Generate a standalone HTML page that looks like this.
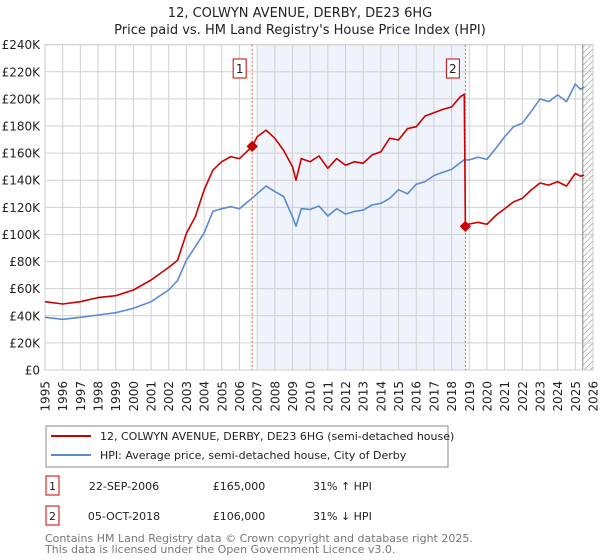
<!DOCTYPE html>
<html><head><meta charset="utf-8"><style>
body{margin:0;background:#fff;font-family:"DejaVu Sans","Liberation Sans",sans-serif;}
#wrap{position:relative;width:600px;height:560px;overflow:hidden}
</style></head><body>
<div id="wrap">
<svg id="chart" width="600" height="560" style="position:absolute;left:0;top:0" font-family="DejaVu Sans, Liberation Sans, sans-serif"></svg>
</div>
<script>
const hpiYears=[1995,1996,1997,1998,1999,2000,2001,2002,2002.5,2003,2003.5,2004,2004.5,2005,2005.5,2006,2006.7,2007,2007.5,2008,2008.5,2009,2009.2,2009.5,2010,2010.5,2011,2011.5,2012,2012.5,2013,2013.5,2014,2014.5,2015,2015.5,2016,2016.5,2017,2017.5,2018,2018.7,2019,2019.5,2020,2020.5,2021,2021.5,2022,2022.5,2023,2023.5,2024,2024.5,2025,2025.3,2025.5];
const hpiValues=[38.9,37.4,38.9,40.6,42.3,45.5,50.4,59,66,81,91,101,117,119,120.5,119,126.6,130,135.7,131.6,128,113,106,119,118.5,121,113.6,119,115,117,118,121.7,123,126.6,133,130,137,139,143.4,145.8,148,155,155,157,155.4,163.5,172,179.5,182,190.6,200,198,203,198,211,207,209];
const priceYears=[1995,1996,1997,1998,1999,2000,2001,2002,2002.5,2003,2003.5,2004,2004.5,2005,2005.5,2006,2006.72,2007,2007.5,2008,2008.5,2009,2009.2,2009.5,2010,2010.5,2011,2011.5,2012,2012.5,2013,2013.5,2014,2014.5,2015,2015.5,2016,2016.5,2017,2017.5,2018,2018.5,2018.72,2018.78,2019,2019.5,2020,2020.5,2021,2021.5,2022,2022.5,2023,2023.5,2024,2024.5,2025,2025.3,2025.5];
const priceValues=[50.4,48.7,50.4,53.4,54.8,59,66.4,75.7,81,100.8,113,132.8,147.5,153.7,157.4,156,165,172,177,171,162,150,140,156,153.7,157.9,148.8,156,151,153.7,152.5,158.6,161,171,169.7,178,179.5,187.4,189.8,192.3,194,201.6,203.4,106,107.7,109,107.5,114,119,124,126.6,132.8,138,136.4,139,135.7,145,143,143.8];
const saleYears=[2006.72,2018.78];
const saleValues=[165,106];
const saleLabels=["1","2"];
const yTicks=[0,20,40,60,80,100,120,140,160,180,200,220,240];
const xTicks=[1995,1996,1997,1998,1999,2000,2001,2002,2003,2004,2005,2006,2007,2008,2009,2010,2011,2012,2013,2014,2015,2016,2017,2018,2019,2020,2021,2022,2023,2024,2025,2026];

const svg=document.getElementById('chart');
const NS='http://www.w3.org/2000/svg';
const L=45,R=593,T=44.7,B=370;
const X=y=>L+(y-1995)*(R-L)/31;
const Y=v=>B-v*(B-T)/240;
function el(t,a,p){const e=document.createElementNS(NS,t);for(const k in a)e.setAttribute(k,a[k]);(p||svg).appendChild(e);return e;}

let t=el('text',{x:300,y:17,'text-anchor':'middle','font-size':13,fill:'#222'});t.textContent='12, COLWYN AVENUE, DERBY, DE23 6HG';


t=el('text',{x:300,y:34,'text-anchor':'middle','font-size':13,fill:'#222'});t.textContent="Price paid vs. HM Land Registry's House Price Index (HPI)";



let r=el('rect',{x:X(2007),y:T,width:X(saleYears[1])-X(2007),height:B-T,fill:'#eef3fc'});



const defs=el('defs',{});
const pat=el('pattern',{id:'hatch',width:6,height:6,patternUnits:'userSpaceOnUse'},defs);
el('path',{d:'M0,6 L6,0',stroke:'#bbb','stroke-width':1},pat);
r=el('rect',{x:X(2025.42),y:T,width:R-X(2025.42),height:B-T,fill:'url(#hatch)'});



yTicks.forEach(v=>{
 const g=el('line',{x1:L,x2:R,y1:Y(v),y2:Y(v),stroke:'#d0d0d0','stroke-width':1});
 
 
 const tx=el('text',{x:L-5,y:Y(v)+4.5,'text-anchor':'end','font-size':12,fill:'#222'});
 tx.textContent='£'+(v===0?'0':v+'K');
 
 
});
xTicks.forEach(y=>{
 const g=el('line',{x1:X(y),x2:X(y),y1:T,y2:B,stroke:'#d0d0d0','stroke-width':1});
 
 
 const tx=el('text',{x:0,y:0,'text-anchor':'end','font-size':12,fill:'#222',transform:`translate(${X(y)+4.5},381) rotate(-90)`});
 tx.textContent=y;
 
 
});
el('line',{x1:X(2025.42),x2:X(2025.42),y1:T,y2:B,stroke:'#888','stroke-width':1});
r=el('rect',{x:L,y:T,width:R-L,height:B-T,fill:'none',stroke:'#ccc'});

saleYears.forEach((y,i)=>{
 const d=el('line',{x1:X(y),x2:X(y),y1:T,y2:B,stroke:'#e06060','stroke-width':1,'stroke-dasharray':'2,2'});
 
 
});

function line(xs,vs,col,name){
 const p=el('polyline',{points:xs.map((x,i)=>X(x).toFixed(1)+','+Y(vs[i]).toFixed(1)).join(' '),fill:'none',stroke:col,'stroke-width':1.6,'stroke-linejoin':'round'});
 
 
}
line(hpiYears,hpiValues,'#5b8bd0','hpi-line');
line(priceYears,priceValues,'#cc0000','price-paid-line');

saleYears.forEach((y,i)=>{
 const cx=X(y),cy=Y(saleValues[i]);
 const m=el('rect',{x:cx-4,y:cy-4,width:8,height:8,fill:'#cc0000',transform:`rotate(45 ${cx} ${cy})`});
 
 
 const g=el('g',{});
 
 
 el('rect',{x:cx-19,y:59,width:13,height:19,fill:'#fff',stroke:'#cc0000'},g);
 const tx=el('text',{x:cx-12.5,y:73,'text-anchor':'middle','font-size':12,fill:'#222'},g);
 tx.textContent=saleLabels[i];
});

const lg=el('g',{});


el('rect',{x:46,y:426,width:402,height:41,fill:'#fff',stroke:'#888'},lg);
el('line',{x1:51,x2:91,y1:436,y2:436,stroke:'#cc0000','stroke-width':2},lg);
el('line',{x1:51,x2:91,y1:455,y2:455,stroke:'#5b8bd0','stroke-width':2},lg);
let lt=el('text',{x:100,y:440,'font-size':11,fill:'#222'},lg);lt.textContent='12, COLWYN AVENUE, DERBY, DE23 6HG (semi-detached house)';


lt=el('text',{x:100,y:459,'font-size':11,fill:'#222'},lg);lt.textContent='HPI: Average price, semi-detached house, City of Derby';



const rows=[["1","22-SEP-2006","£165,000","31% ↑ HPI"],["2","05-OCT-2018","£106,000","31% ↓ HPI"]];
rows.forEach((rw,i)=>{
 const yy=482+i*30;
 const g=el('g',{});
 
 
 el('rect',{x:46,y:yy-6,width:13,height:19,fill:'#fff',stroke:'#cc0000'},g);
 let a=el('text',{x:52.5,y:yy+8,'text-anchor':'middle','font-size':11,fill:'#222'},g);a.textContent=rw[0];
 a=el('text',{x:124,y:yy+8,'text-anchor':'middle','font-size':11,fill:'#222'},g);a.textContent=rw[1];
 a=el('text',{x:239,y:yy+8,'text-anchor':'middle','font-size':11,fill:'#222'},g);a.textContent=rw[2];
 a=el('text',{x:313,y:yy+8,'font-size':11,fill:'#222'},g);a.textContent=rw[3];
});
let f=el('text',{x:45,y:542,'font-size':11,fill:'#777'});f.textContent='Contains HM Land Registry data © Crown copyright and database right 2025.';


f=el('text',{x:45,y:553,'font-size':11,fill:'#777'});f.textContent='This data is licensed under the Open Government Licence v3.0.';


</script>
</body></html>
